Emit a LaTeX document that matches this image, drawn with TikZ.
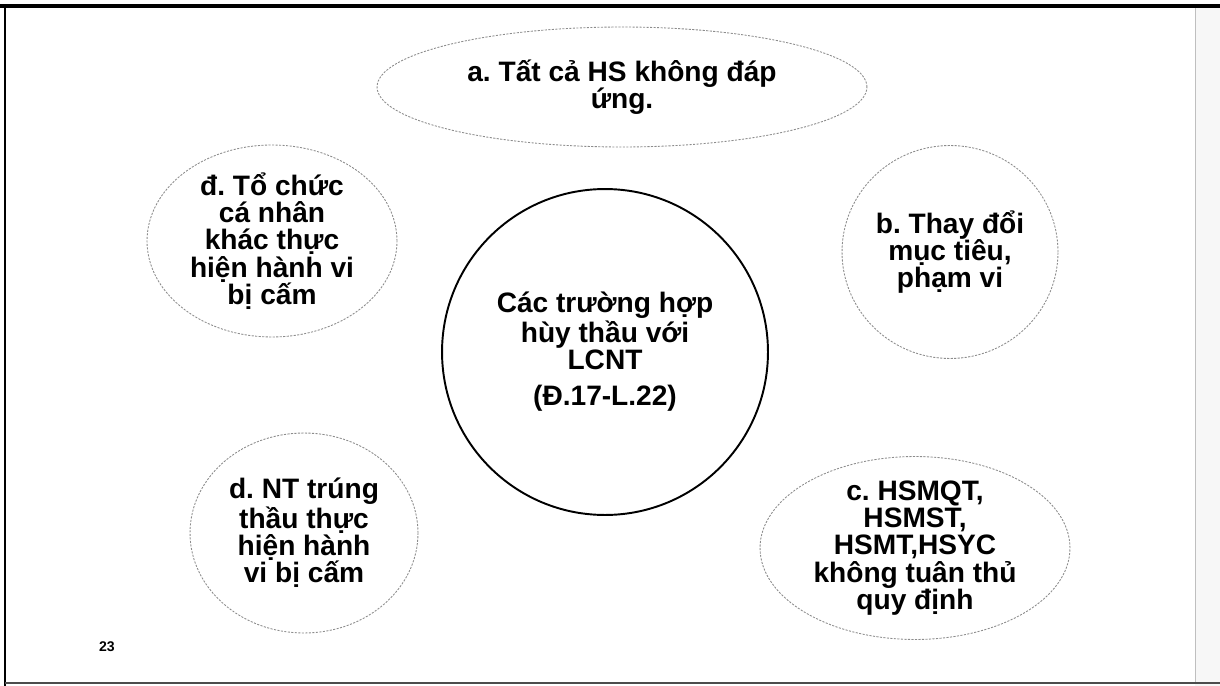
\documentclass[tikz,border=0pt]{standalone}
\usepackage{fontspec}
\setmainfont{Liberation Sans}
\frenchspacing
\usetikzlibrary{shapes.geometric}

\begin{document}
\begin{tikzpicture}[x=0.02cm,y=-0.02cm,thick,
    main node/.style={ellipse,draw=black!45,line width=0.5pt,dash pattern=on 1.2pt off 0.8pt,inner xsep=0pt,inner ysep=-0.25cm,align=center,font=\fontsize{16}{15.6}\selectfont\bfseries},
    hub node/.style={main node,circle,draw=black,solid,line width=1.1pt}]
    \useasboundingbox (0,0) rectangle (1220,686);
    % slide frame
    \fill[black!3] (1195,8) rectangle (1220,686);
    \draw[black!25,line width=0.5pt] (1195,8) -- (1195,683);
    \draw[line width=2pt] (0,6) -- (1220,6);
    \draw[line width=1pt] (5,6) -- (5,686);
    \draw[black!70,line width=1pt] (5,683) -- (1220,683);

    \node[hub node,minimum size=6.52cm] (H) at (605,352) {Các trường hợp\\hùy thầu với\\LCNT\\[0.18cm](Đ.17-L.22)};
    \node[main node,minimum width=9.8cm,minimum height=2.4cm] (A) at (622,87) {a. Tất cả HS không đáp\\ứng.};
    \node[main node,minimum width=4.32cm,minimum height=4.26cm] (B) at (950,252) {b. Thay đổi\\mục tiêu,\\phạm vi};
    \node[main node,minimum width=6.2cm,minimum height=3.66cm] (C) at (915,548) {c. HSMQT,\\HSMST,\\HSMT,HSYC\\không tuân thủ\\quy định};
    \node[main node,minimum width=4.56cm,minimum height=4cm] (D) at (304,533) {d. NT trúng\\thầu thực\\hiện hành\\vi bị cấm};
    \node[main node,minimum width=5cm,minimum height=3.84cm] (DD) at (272,241) {đ. Tổ chức\\cá nhân\\khác thực\\hiện hành vi\\bị cấm};

    \node[font=\fontsize{8}{8}\selectfont\bfseries] (num) at (107,647) {23};
\end{tikzpicture}
\end{document}
